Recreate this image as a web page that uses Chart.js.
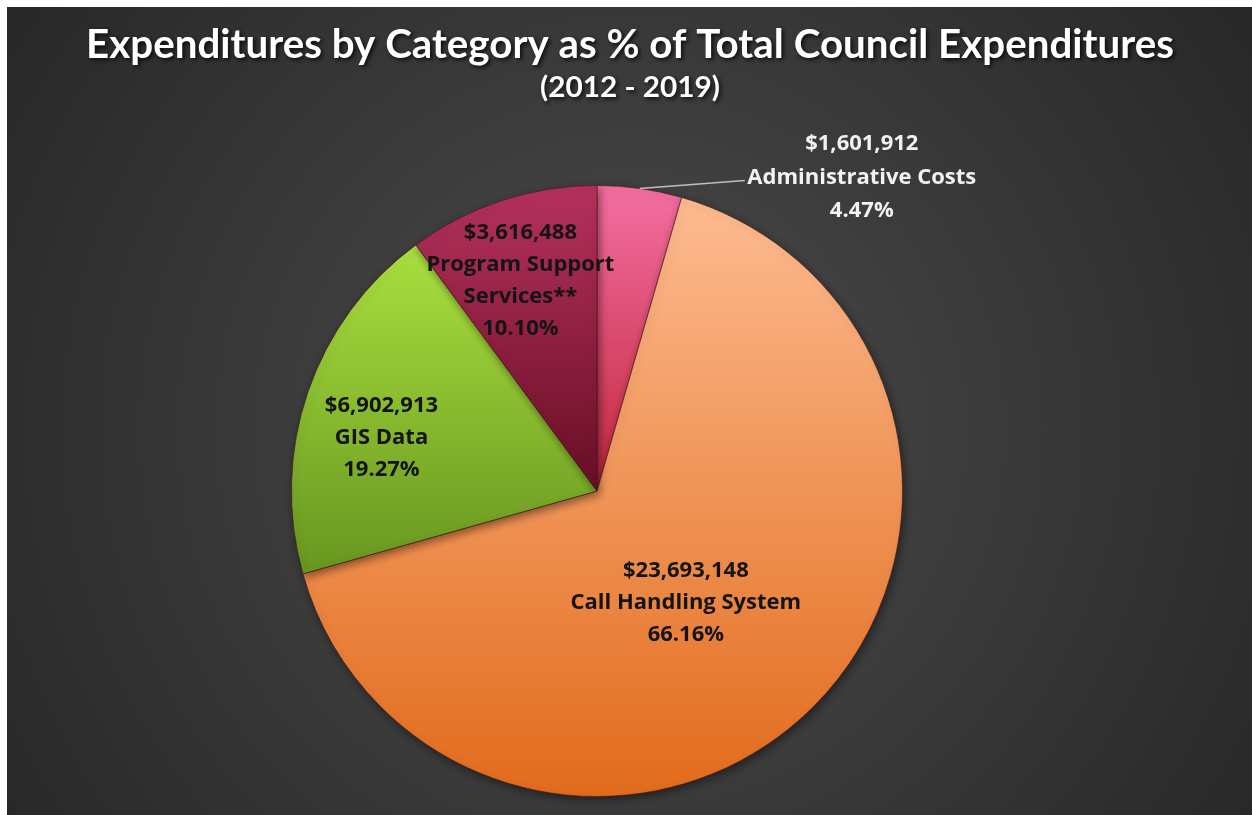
<!DOCTYPE html>
<html>
<head>
<meta charset="utf-8">
<script src="https://cdn.jsdelivr.net/npm/chart.js@4.4.0/dist/chart.umd.min.js"></script>
<style>
  html, body { margin: 0; padding: 0; background: #fff; overflow: hidden; }
  #wrap { width: 1252px; height: 815px; }
</style>
</head>
<body>
<div id="wrap"><canvas id="pieChart" width="1252" height="815"></canvas></div>
<script>
// Data
const categories = ['Administrative Costs', 'Call Handling System', 'GIS Data', ['Program Support', 'Services**']];
const amounts = [1601912, 23693148, 6902913, 3616488];
const colorTop = ['#f46fa2', '#fdbb90', '#aadf3f', '#b5315d'];
const colorBottom = ['#c2263c', '#e26b1c', '#67961f', '#680e25'];
const labelColors = ['#f2f2f2', '#141414', '#141414', '#141414'];
// label placement: angle shift (deg) and fraction of radius, inside slices
const labelShift = [0, 6.3, -5, -1.8];
const labelRadius = [1, 0.467, 0.727, 0.734];
const titleText = 'Expenditures by Category as % of Total Council Expenditures';
const subtitleText = '(2012 - 2019)';

const total = amounts.reduce((a, b) => a + b, 0);

function money(v) {
    return '$' + v.toLocaleString('en-US');
}

function percent(v) {
    return (v / total * 100).toFixed(2) + '%';
}

// vertical gradient over each slice's own height, like the Excel fill
function sliceGradient(context) {
    const chart = context.chart;
    const area = chart.chartArea;
    const i = context.dataIndex;
    if (!area) return colorTop[i];
    const cx = (area.left + area.right) / 2;
    const cy = (area.top + area.bottom) / 2;
    const r = Math.min(area.width, area.height) / 2;
    let start = 0;
    for (let k = 0; k < i; k++) start += amounts[k] / total * 360;
    const end = start + amounts[i] / total * 360;
    const ys = [cy];
    [start, end].forEach(a => ys.push(cy - r * Math.cos(a * Math.PI / 180)));
    if (start <= 0 || end >= 359.999) ys.push(cy - r);
    if (start < 180 && end > 180) ys.push(cy + r);
    const g = chart.ctx.createLinearGradient(0, Math.min(...ys), 0, Math.max(...ys));
    g.addColorStop(0, colorTop[i]);
    g.addColorStop(1, colorBottom[i]);
    return g;
}

const backgroundPlugin = {
    id: 'darkBackground',
    beforeDraw(chart) {
        const ctx = chart.ctx;
        ctx.save();
        ctx.fillStyle = '#ffffff';
        ctx.fillRect(0, 0, chart.width, chart.height);
        const g = ctx.createRadialGradient(630, 430, 0, 630, 430, 820);
        g.addColorStop(0, '#4c4c4c');
        g.addColorStop(1, '#242424');
        ctx.fillStyle = g;
        ctx.fillRect(7, 7, chart.width - 7, chart.height - 7);

        // title with drop shadow
        ctx.shadowColor = 'rgba(0, 0, 0, 0.8)';
        ctx.shadowBlur = 4;
        ctx.shadowOffsetX = 2;
        ctx.shadowOffsetY = 2;
        ctx.fillStyle = '#ffffff';
        ctx.textAlign = 'center';
        ctx.textBaseline = 'alphabetic';
        ctx.font = 'bold 40px Lato';
        let w = ctx.measureText(titleText).width;
        ctx.save();
        ctx.translate(630, 58);
        ctx.scale(1088 / w, 1);
        ctx.fillText(titleText, 0, 0);
        ctx.restore();
        ctx.font = 'bold 29px Lato';
        w = ctx.measureText(subtitleText).width;
        ctx.save();
        ctx.translate(630, 97);
        ctx.scale(180 / w, 1);
        ctx.fillText(subtitleText, 0, 0);
        ctx.restore();
        ctx.restore();
    },
    beforeDatasetsDraw(chart) {
        const ctx = chart.ctx;
        ctx.save();
        ctx.shadowColor = 'rgba(0, 0, 0, 0.45)';
        ctx.shadowBlur = 8;
        ctx.shadowOffsetX = 2;
        ctx.shadowOffsetY = 3;
    },
    afterDatasetsDraw(chart) {
        chart.ctx.restore();
    }
};

const labelPlugin = {
    id: 'sliceLabels',
    afterDatasetsDraw(chart) {
        const ctx = chart.ctx;
        const meta = chart.getDatasetMeta(0);
        ctx.save();
        ctx.font = 'bold 22px "Open Sans"';
        ctx.textAlign = 'center';
        ctx.textBaseline = 'middle';
        meta.data.forEach((arc, i) => {
            const lines = [money(amounts[i])].concat(categories[i]).concat([percent(amounts[i])]);
            const mid = (arc.startAngle + arc.endAngle) / 2 + labelShift[i] * Math.PI / 180;
            const R = arc.outerRadius;
            let x = arc.x + Math.cos(mid) * R * labelRadius[i];
            let y = arc.y + Math.sin(mid) * R * labelRadius[i];
            let step = 32;
            if (i === 0) {
                // outside label with leader line
                const ex = x + 105, ey = y - 8;
                ctx.strokeStyle = '#bfbfbf';
                ctx.lineWidth = 1.5;
                ctx.beginPath();
                ctx.moveTo(x, y);
                ctx.lineTo(ex, ey);
                ctx.stroke();
                x = ex + 117;
                y = ey - 3;
                step = 33.5;
            }
            ctx.fillStyle = labelColors[i];
            const y0 = y - (lines.length - 1) * step / 2;
            lines.forEach((t, k) => ctx.fillText(t, x, y0 + k * step));
        });
        ctx.restore();
    }
};

new Chart(document.getElementById('pieChart'), {
    type: 'pie',
    data: {
        labels: categories,
        datasets: [{
            data: amounts,
            backgroundColor: sliceGradient,
            borderColor: 'rgba(70, 20, 20, 0.55)',
            borderWidth: 1
        }]
    },
    options: {
        responsive: false,
        animation: false,
        layout: { padding: { top: 185, bottom: 18, left: 0, right: 58 } },
        plugins: {
            legend: { display: false },
            tooltip: { enabled: false },
            title: { display: false }
        }
    },
    plugins: [backgroundPlugin, labelPlugin]
});
</script>
</body>
</html>
